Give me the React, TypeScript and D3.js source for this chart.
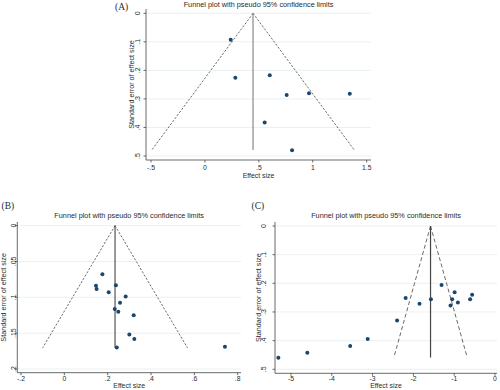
import React from "react";
import * as d3 from "d3";

// ---------- DATA ----------
const effectA = [0.239, 0.282, 0.601, 0.758, 0.965, 1.343, 0.554, 0.808];
const seA = [0.0925, 0.2255, 0.217, 0.286, 0.28, 0.282, 0.383, 0.48];
const pooledA = 0.446;
const maxSeA = 0.479;
const xTicksA = [-0.5, 0, 0.5, 1, 1.5];
const xTickLabelsA = ["-.5", "0", ".5", "1", "1.5"];
const yTicksA = [0, 0.1, 0.2, 0.3, 0.4, 0.5];
const yTickLabelsA = ["0", ".1", ".2", ".3", ".4", ".5"];

const effectB = [0.1755, 0.146, 0.149, 0.238, 0.2046, 0.283, 0.257, 0.2326, 0.249, 0.32, 0.3, 0.323, 0.242, 0.741];
const seB = [0.068, 0.0838, 0.0884, 0.0833, 0.093, 0.099, 0.1075, 0.1163, 0.12, 0.125, 0.152, 0.158, 0.17, 0.169];
const pooledB = 0.234;
const maxSeB = 0.1705;
const xTicksB = [-0.2, 0, 0.2, 0.4, 0.6, 0.8];
const xTickLabelsB = ["-.2", "0", ".2", ".4", ".6", ".8"];
const yTicksB = [0, 0.05, 0.1, 0.15, 0.2];
const yTickLabelsB = ["0", ".05", ".1", ".15", ".2"];

const effectC = [-5.31, -4.6, -3.55, -3.12, -2.4, -2.19, -1.85, -1.57, -1.31, -1.09, -1.05, -0.99, -0.91, -0.61, -0.56];
const seC = [0.46, 0.442, 0.419, 0.394, 0.33, 0.251, 0.271, 0.256, 0.206, 0.277, 0.256, 0.231, 0.267, 0.256, 0.24];
const pooledC = -1.58;
const maxSeC = 0.459;
const xTicksC = [-5, -4, -3, -2, -1, 0];
const xTickLabelsC = ["-5", "-4", "-3", "-2", "-1", "0"];
const yTicksC = [0, 0.1, 0.2, 0.3, 0.4, 0.5];
const yTickLabelsC = ["0", ".1", ".2", ".3", ".4", ".5"];

const TITLE = "Funnel plot with pseudo 95% confidence limits";
const XLABEL = "Effect size";
const YLABEL = "Standard error of effect size";

const SANS = "'Liberation Sans', Arial, sans-serif";
const SERIF = "'Liberation Serif', 'Times New Roman', serif";
const MARK = "#1a476f";
const GRID = "#e4eef0";
const TXT = "#2a2a2a";

type PanelProps = {
  tag: string;
  effect: number[];
  se: number[];
  pooled: number;
  maxSe: number;
  xTicks: number[];
  xLabels: string[];
  yTicks: number[];
  yLabels: string[];
  xDomain: [number, number];
  xRange: [number, number];
  yDomain: [number, number];
  yRange: [number, number];
  box: { left: number; right: number; top: number; bottom: number };
  tagPos: [number, number];
  titleY: number;
  xLabelY: number;
  xTickDy: number;
  yLabelX: number;
  yTickX: number;
  centerColor: string;
  dash: string;
};

function Panel(p: PanelProps) {
  const x = d3.scaleLinear().domain(p.xDomain).range(p.xRange);
  const y = d3.scaleLinear().domain(p.yDomain).range(p.yRange);
  const { left, right, top, bottom } = p.box;
  const cx = (left + right) / 2;
  const cy = (top + bottom) / 2;
  const halfW = 1.96 * p.maxSe;
  const line = d3.line<[number, number]>().x((d) => x(d[0])).y((d) => y(d[1]));
  const leftLimit = line([[p.pooled, 0], [p.pooled - halfW, p.maxSe]]) || "";
  const rightLimit = line([[p.pooled, 0], [p.pooled + halfW, p.maxSe]]) || "";
  const center = line([[p.pooled, 0], [p.pooled, p.maxSe]]) || "";
  return (
    <g>
      <text x={p.tagPos[0]} y={p.tagPos[1]} fontFamily={SERIF} fontSize={9.5} fill={TXT}>{p.tag}</text>
      <text x={cx} y={p.titleY} textAnchor="middle" fontFamily={SANS} fontSize={7.3} fill={TXT}>{TITLE}</text>
      {p.yTicks.map((t, i) => (
        <line key={"g" + i} x1={left} x2={right} y1={y(t)} y2={y(t)} stroke={GRID} strokeWidth={0.8} />
      ))}
      <line x1={left} x2={left} y1={top} y2={bottom} stroke="#444" strokeWidth={0.8} />
      <line x1={left} x2={right} y1={bottom} y2={bottom} stroke="#444" strokeWidth={0.8} />
      {p.yTicks.map((t, i) => (
        <g key={"y" + i}>
          <line x1={left - 2.5} x2={left} y1={y(t)} y2={y(t)} stroke="#444" strokeWidth={0.8} />
          <text
            transform={`translate(${p.yTickX},${y(t)}) rotate(-90)`}
            textAnchor="middle"
            dy="0.35em"
            fontFamily={SANS}
            fontSize={7}
            fill={TXT}
          >
            {p.yLabels[i]}
          </text>
        </g>
      ))}
      {p.xTicks.map((t, i) => (
        <g key={"x" + i}>
          <line x1={x(t)} x2={x(t)} y1={bottom} y2={bottom + 2.5} stroke="#444" strokeWidth={0.8} />
          <text x={x(t)} y={bottom + p.xTickDy} textAnchor="middle" fontFamily={SANS} fontSize={6.8} fill={TXT}>
            {p.xLabels[i]}
          </text>
        </g>
      ))}
      <text x={cx} y={p.xLabelY} textAnchor="middle" fontFamily={SANS} fontSize={6.9} fill={TXT}>{XLABEL}</text>
      <text
        transform={`translate(${p.yLabelX},${cy}) rotate(-90)`}
        textAnchor="middle"
        dy="0.35em"
        fontFamily={SANS}
        fontSize={7.2}
        fill={TXT}
      >
        {YLABEL}
      </text>
      <path d={leftLimit} stroke="#444" strokeWidth={0.8} strokeDasharray={p.dash} fill="none" />
      <path d={rightLimit} stroke="#444" strokeWidth={0.8} strokeDasharray={p.dash} fill="none" />
      <path d={center} stroke={p.centerColor} strokeWidth={1.2} fill="none" />
      {p.effect.map((e, i) => (
        <circle key={"p" + i} cx={x(e)} cy={y(p.se[i])} r={2} fill={MARK} />
      ))}
    </g>
  );
}

export default function App() {
  return (
    <svg
      width={500}
      height={390}
      style={{ position: "absolute", left: 0, top: 0, background: "#fff" }}
    >
      <rect width={500} height={390} fill="#fff" />
      <Panel
        tag="(A)"
        effect={effectA}
        se={seA}
        pooled={pooledA}
        maxSe={maxSeA}
        xTicks={xTicksA}
        xLabels={xTickLabelsA}
        yTicks={yTicksA}
        yLabels={yTickLabelsA}
        xDomain={[-0.5, 1.5]}
        xRange={[151, 366.7]}
        yDomain={[0, 0.5]}
        yRange={[13.3, 156]}
        box={{ left: 146, right: 371, top: 9, bottom: 160 }}
        tagPos={[115, 10]}
        titleY={6.5}
        xLabelY={177.8}
        xTickDy={9.6}
        yLabelX={131.7}
        yTickX={137.5}
        centerColor="#888"
        dash="2.2,1.6"
      />
      <Panel
        tag="(B)"
        effect={effectB}
        se={seB}
        pooled={pooledB}
        maxSe={maxSeB}
        xTicks={xTicksB}
        xLabels={xTickLabelsB}
        yTicks={yTicksB}
        yLabels={yTickLabelsB}
        xDomain={[-0.2, 0.8]}
        xRange={[21, 237.7]}
        yDomain={[0, 0.2]}
        yRange={[225.6, 369]}
        box={{ left: 17.3, right: 241, top: 222, bottom: 372.7 }}
        tagPos={[1.5, 208.5]}
        titleY={217.5}
        xLabelY={388.3}
        xTickDy={7.8}
        yLabelX={3.3}
        yTickX={13.7}
        centerColor="#555"
        dash="2.2,1.6"
      />
      <Panel
        tag="(C)"
        effect={effectC}
        se={seC}
        pooled={pooledC}
        maxSe={maxSeC}
        xTicks={xTicksC}
        xLabels={xTickLabelsC}
        yTicks={yTicksC}
        yLabels={yTickLabelsC}
        xDomain={[-5, 0]}
        xRange={[291, 495]}
        yDomain={[0, 0.5]}
        yRange={[226, 369.3]}
        box={{ left: 275, right: 497, top: 222, bottom: 373.3 }}
        tagPos={[251.5, 208.5]}
        titleY={218}
        xLabelY={388.3}
        xTickDy={7.2}
        yLabelX={258.3}
        yTickX={264}
        centerColor="#444"
        dash="4,2.5"
      />
    </svg>
  );
}
